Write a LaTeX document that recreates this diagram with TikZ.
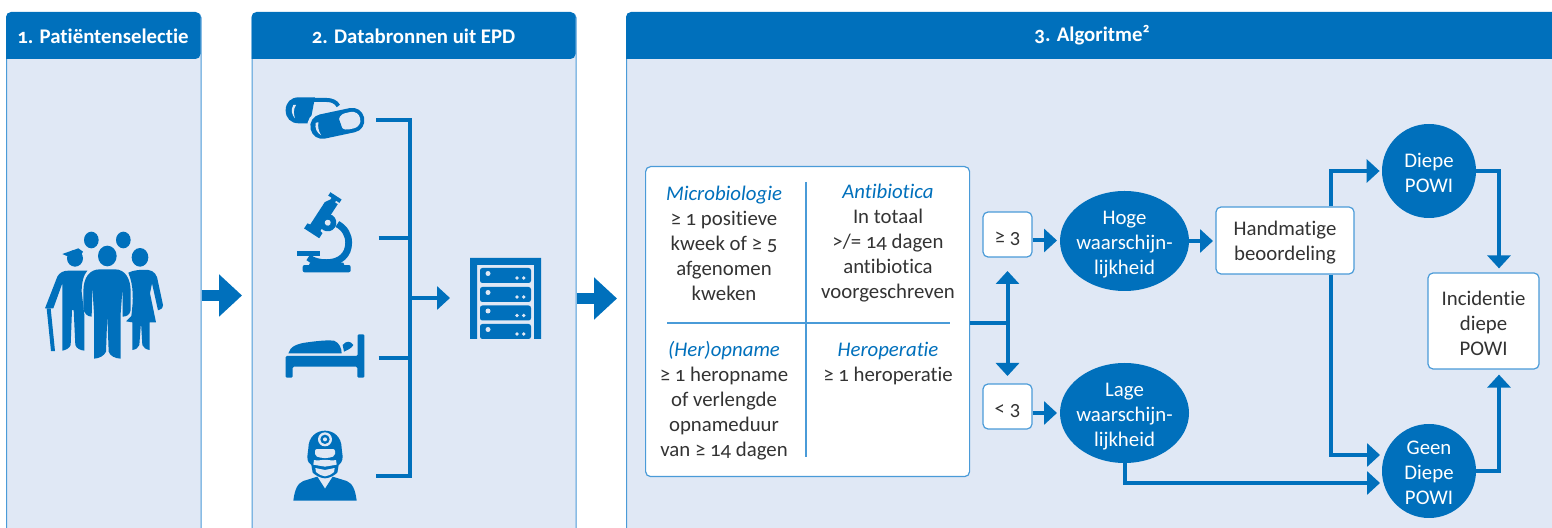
\documentclass[tikz,border=0pt]{standalone}
\usepackage{fontspec}
\setmainfont[Numbers=OldStyle,Ligatures=NoCommon]{Carlito}
\usetikzlibrary{arrows.meta,calc,shapes.geometric}
\definecolor{rblue}{HTML}{0070BC}
\definecolor{rbg}{HTML}{E0E8F5}
\definecolor{rline}{HTML}{4A9BD8}
\definecolor{rtext}{HTML}{333333}
\tikzset{
 panel/.style={draw=rline,fill=rbg,line width=.6pt,rounded corners=2.5pt,inner sep=0pt,minimum height=300pt},
 title/.style={text=white,font=\fontsize{10.4}{12}\selectfont\bfseries,inner sep=0pt},
 whitebox/.style={draw=rline,fill=white,line width=.6pt,rounded corners=2.5pt,inner sep=0pt,text=rtext,align=center,font=\fontsize{10.4}{12.5}\selectfont},
 bluenode/.style={fill=rblue,text=white,inner sep=0pt,align=center,font=\fontsize{10.4}{12.5}\selectfont},
 cell/.style={text=rtext,inner sep=0pt,align=center,font=\fontsize{10.4}{12.5}\selectfont},
 inlabel/.style={text=white,inner sep=0pt,outer sep=0pt,align=center,font=\fontsize{10.4}{12.5}\selectfont,yshift=-2pt},
 conn/.style={draw=rblue,line width=2pt,line join=miter,-{Triangle[length=6.5pt,width=11.5pt]}},
 plainconn/.style={draw=rblue,line width=2pt,line join=miter},
 bigconn/.style={draw=rblue,line width=5.5pt,-{Triangle[length=11.5pt,width=20.5pt]}},
 divider/.style={draw=rline,line width=.6pt},
 zoomed/.style={x=0.16667pt,y=-0.16667pt},
}
\newcommand{\hd}[1]{{\color{rblue}\itshape #1}}
\newcommand{\dn}[1]{\rule{0pt}{#1}}
\begin{document}
\begin{tikzpicture}[x=0.5pt,y=-0.5pt]
\useasboundingbox (0,0) rectangle (1552,528);
\clip (0,0) rectangle (1552,528);
% panels
\node[panel,minimum width=97.25pt,anchor=north west] (panel1) at (6,12.5) {};
\node[panel,minimum width=162pt,anchor=north west] (panel2) at (251.5,12.5) {};
\node[panel,minimum width=480pt,anchor=north west] (panel3) at (626,12.5) {};
% headers
\foreach \a/\b in {6/200.5,251.5/575.5,626/1600}{
 \fill[rblue,rounded corners=2.5pt] (\a,59) -- (\a,12) -- (\b,12) -- (\b,59) [sharp corners] -- cycle;
}
\node[title] (t1) at (103,36) {1. Patiëntenselectie};
\node[title] (t2) at (413.5,36) {2. Databronnen uit EPD};
\node[title] (t3) at (1092,35) {3. Algoritme²};
% big arrows
\coordinate (tip1) at (242,295.5);
\coordinate (tip2) at (617,298.5);
\draw[bigconn] (panel1.east |- tip1) -- (tip1);
\draw[bigconn] (panel2.east |- tip2) -- (tip2);
% people icon
\begin{scope}[zoomed,rblue]
\fill (274,720) ellipse (22 and 25);
\fill (370,720) ellipse (22 and 25);
\fill (322,768) ellipse (28 and 31);
\fill (420,772) ellipse (25 and 28);
\fill (225,775) ellipse (24 and 25);
\fill (187,762) -- (235,745) -- (249,755) -- (240,770) -- (205,770) -- cycle;
% old man
\fill (135,925) -- (172,830) .. controls (178,818) and (190,812) .. (205,812) -- (262,812)
 .. controls (250,825) and (245,850) .. (245,875) -- (253,945) -- (253,1052)
 .. controls (238,1050) and (230,1045) .. (226,1035) -- (221,930) -- (216,930) -- (212,1035)
 .. controls (208,1045) and (198,1050) .. (187,1052) -- (187,850) -- (160,925) -- cycle;
\fill (140,925) -- (153,1053) -- (165,1053) -- (152,925) -- cycle;
% centre man
\fill (250,875) .. controls (250,830) and (270,808) .. (300,808) -- (345,808)
 .. controls (375,808) and (392,835) .. (392,875) -- (392,930) .. controls (390,945) and (378,950) .. (368,950)
 -- (368,860) -- (362,940) -- (362,1076) .. controls (345,1075) and (330,1068) .. (326,1055) -- (322,945) -- (318,1055)
 .. controls (312,1068) and (298,1075) .. (282,1076) -- (282,940) -- (277,860) -- (275,950)
 .. controls (262,950) and (252,940) .. (250,925) -- cycle;
% woman
\fill (385,818) .. controls (400,810) and (425,808) .. (445,810) .. controls (462,812) and (472,825) .. (474,845)
 -- (489,915) .. controls (488,925) and (482,930) .. (474,931) -- (456,850) -- (450,880) -- (468,967) -- (449,967) -- (449,1050)
 .. controls (438,1048) and (430,1044) .. (427,1035) -- (423,967) -- (418,1035) .. controls (415,1044) and (408,1048) .. (397,1050)
 -- (397,967) -- (378,964) -- (394,948) .. controls (400,900) and (402,860) .. (385,818) -- cycle;
\end{scope}
% bracket
\coordinate (br1) at (376,120);
\coordinate (br2) at (378.5,238);
\coordinate (br3) at (378.5,358);
\coordinate (br4) at (376,476);
\coordinate (brx) at (409.5,298);
\draw[plainconn] (br1) -- (br1 -| brx) -- (br4 -| brx) -- (br4);
\draw[plainconn] (br2) -- (br2 -| brx);
\draw[plainconn] (br3) -- (br3 -| brx);
% server
\node[inner sep=0pt,minimum width=35.5pt,minimum height=40.5pt,anchor=north west] (server) at (470,258) {};
\fill[rblue] (470,339) -- (470,258) -- (541,258) -- (541,339) -- (534,339) -- (534,265) -- (477,265) -- (477,339) -- cycle;
\foreach \y in {268,287,305.5,324}{
 \fill[rblue,rounded corners=1.2pt] (480,\y) rectangle (531,\y+15);
 \fill[rbg] (488,\y+5.5) circle (2.5);
 \fill[rbg] (517,\y+10) circle (1.8);
 \fill[rbg] (523.7,\y+10) circle (1.8);
}
\coordinate (srvtip) at (450,298);
\draw[conn] (brx) -- (srvtip);
% pills
\begin{scope}[shift={(260,70)},zoomed]
\fill[rblue] (165,82) -- (116,82) .. controls (92,82) and (77,98) .. (77,121) .. controls (77,144) and (92,160) .. (116,160) -- (150,160) -- cycle;
\draw[rblue,line width=2pt] (160,90) -- (200,90) .. controls (215,90) and (228,95) .. (235,108);
\fill[rbg] (100,105) .. controls (92,118) and (95,135) .. (105,145) .. controls (100,130) and (100,118) .. (108,105) -- cycle;
\begin{scope}[shift={(232,160)},rotate=12]
\fill[rbg,rounded corners=7pt] (-90,-46) rectangle (90,46);
\fill[rblue,rounded corners=6pt] (-82,-37) rectangle (82,37);
\fill[rbg,rounded corners=4pt] (5,-25) -- (70,-25) -- (70,25) -- (5,25) -- cycle;
\fill[rblue] (5,-30) -- (0,-30) -- (0,30) -- (14,30) .. controls (9,10) and (9,-10) .. (5,-30) -- cycle;
\fill[rbg] (-63,-15) .. controls (-70,0) and (-66,15) .. (-55,25) .. controls (-60,10) and (-60,0) .. (-55,-15) -- cycle;
\end{scope}
% microscope
\fill[rblue,rounded corners=1pt] (128,585) rectangle (272,607);
\fill[rblue] (112,543) rectangle (180,557);
\draw[rblue,line width=3.4pt] (232,462) .. controls (255,475) and (266,495) .. (266,518) .. controls (266,555) and (240,578) .. (200,578) .. controls (180,578) and (160,575) .. (145,562);
\fill[rblue] (150,578) -- (250,578) -- (255,590) -- (145,590) -- cycle;
\begin{scope}[shift={(155,490)},rotate=-33]
\fill[rblue] (-27,0) -- (27,0) -- (27,-18) -- (18,-20) -- (18,-116) -- (8,-116) -- (8,-122) -- (20,-122) -- (20,-134) -- (-20,-134) -- (-20,-122) -- (-8,-122) -- (-8,-116) -- (-18,-100) -- (-18,-20) -- (-27,-18) -- cycle;
\fill[rblue] (23,-53) circle (26);
\fill[rbg] (23,-53) circle (9);
\end{scope}
\end{scope}
% bed and doctor
\begin{scope}[shift={(260,300)},zoomed]
\fill[rblue,rounded corners=.6pt] (77,233) -- (77,168) -- (293,168) -- (293,103) -- (313,103) -- (313,233) -- (292,233) -- (292,200) -- (98,200) -- (98,233) -- cycle;
\fill[rblue] (85,160) .. controls (90,140) and (110,130) .. (150,126) .. controls (180,122) and (205,120) .. (222,122) .. controls (238,128) and (245,145) .. (245,160) -- cycle;
\fill[rblue] (248,135) .. controls (258,122) and (272,122) .. (280,135) .. controls (275,145) and (262,150) .. (252,155) -- cycle;
% torso
\fill[rblue] (100,602) .. controls (104,570) and (112,550) .. (130,543) -- (172,530) -- (195,566) -- (218,530) -- (260,543) .. controls (278,550) and (286,570) .. (290,602) -- cycle;
% head
\fill[rblue] (145,445) .. controls (145,410) and (170,392) .. (195,392) .. controls (220,392) and (245,410) .. (245,445)
 -- (248,470) .. controls (248,485) and (240,492) .. (236,495) -- (232,518) .. controls (222,528) and (205,535) .. (195,535) .. controls (185,535) and (168,528) .. (158,518) -- (154,495) .. controls (148,492) and (142,485) .. (142,470) -- cycle;
\fill[rbg,rounded corners=1pt] (165,447) -- (225,447) -- (225,468) -- (205,474) -- (185,474) -- (165,468) -- cycle;
\fill[rbg] (162,480) .. controls (175,484) and (185,478) .. (195,480) .. controls (205,478) and (215,484) .. (228,480) -- (230,494) -- (195,500) -- (160,494) -- cycle;
\fill[rbg] (166,504) -- (195,510) -- (224,504) -- (222,516) .. controls (212,524) and (205,528) .. (195,529) .. controls (185,528) and (178,524) .. (168,516) -- cycle;
\fill[rbg] (195,418) circle (21);
\fill[rblue] (195,418) circle (14);
\fill[rbg] (195,418) circle (6);
\end{scope}
% criteria box
\node[whitebox,minimum width=162pt,minimum height=155pt,anchor=north west] (crit) at (645,166) {};
\draw[divider] (806,182) -- (806,457);
\draw[divider] (667,323) -- (950,323);
\node[cell] (c1) at (724,243) {\hd{Microbiologie}\\≥ 1 positieve\\kweek of ≥ 5\\afgenomen\\kweken};
\node[cell] (c2) at (888,243) {\hd{Antibiotica}\\In totaal\\>/= 14 dagen\\antibiotica\\voorgeschreven};
\node[cell] (c3) at (724,401) {\hd{(Her)opname}\\≥ 1 heropname\\of verlengde\\opnameduur\\van ≥ 14 dagen};
\node[cell] (c4) at (888,364) {\hd{Heroperatie}\\≥ 1 heroperatie};
% threshold boxes
\node[whitebox,minimum width=24.5pt,minimum height=22.5pt] (ge) at (1007.5,234.5) {\dn{10pt}≥ 3};
\node[whitebox,minimum width=24.5pt,minimum height=22.5pt] (lt) at (1007.5,406.5) {\dn{10pt}< 3};
\coordinate (split) at (1007.5,323);
\draw[plainconn] (crit.east |- split) -- (split);
\coordinate (uptip) at (1007.5,271);
\coordinate (dntip) at (1007.5,376);
\draw[conn] (split) -- (uptip);
\draw[conn] (split) -- (dntip);
% ellipses
\node[ellipse,fill=rblue,inner sep=0pt,minimum width=64.5pt,minimum height=50pt,label={[inlabel]center:{Hoge\\waarschijn-\\lijkheid}}] (hoog) at (1124.5,241) {};
\node[ellipse,fill=rblue,inner sep=0pt,minimum width=64.5pt,minimum height=50pt,label={[inlabel]center:{Lage\\waarschijn-\\lijkheid}}] (laag) at (1124.5,413) {};
\node[whitebox,minimum width=69pt,minimum height=33.5pt] (hand) at (1285,240.5) {\dn{9pt}Handmatige\\beoordeling};
\node[circle,bluenode,minimum size=47pt] (diepe) at (1429,171) {\dn{9pt}Diepe\\POWI};
\node[circle,bluenode,minimum size=47pt] (geen) at (1429,471) {\dn{8.5pt}Geen\\Diepe\\POWI};
\node[whitebox,minimum width=55.5pt,minimum height=48pt] (inc) at (1483.5,321) {\dn{9.5pt}Incidentie\\diepe\\POWI};
% connectors
\draw[conn] (ge.east |- 0,240.5) -- (1057,240.5);
\draw[conn] (lt.east |- 0,413) -- (1057,413);
\draw[conn] (hoog.east) -- (1213,241);
\coordinate (hx) at (1331,0);
\coordinate (ox) at (1499,0);
\draw[conn,shorten >=1pt] (hand.north -| hx) |- (diepe.west);
\draw[conn,shorten >=1pt] (hand.south -| hx) |- (1382,455);
\draw[conn,shorten >=1pt] (laag.south) |- (1382,483);
\draw[conn] (diepe.east) -| ($(inc.north -| ox)+(0,-4)$);
\draw[conn] (geen.east) -| ($(inc.south -| ox)+(0,5)$);
\end{tikzpicture}
\end{document}
